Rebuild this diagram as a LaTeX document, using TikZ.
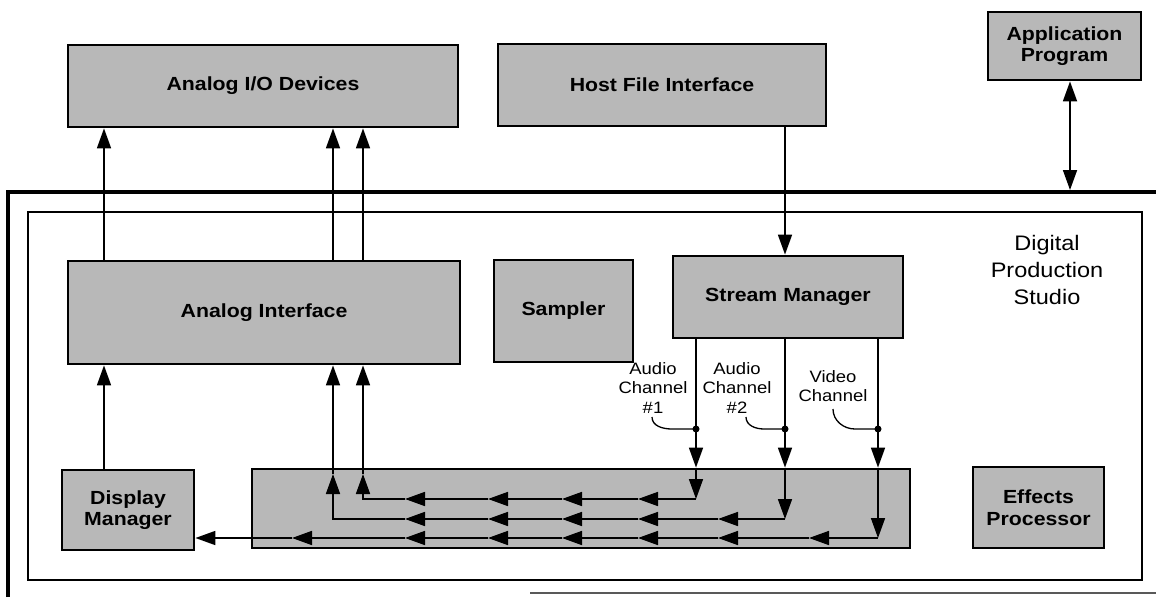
\documentclass[tikz,border=0pt]{standalone}
\usepackage{fontspec}
\setmainfont{Liberation Sans}[FakeStretch=1.12]
\usetikzlibrary{arrows.meta,calc}
\definecolor{boxgray}{gray}{0.72}
\tikzset{
  unit/.style={fill=boxgray, draw=black, line width=2.8pt, align=center,
    inner sep=0pt, font=\bfseries\fontsize{19}{21.5}\selectfont},
  link/.style={line width=1.7pt},
  tip/.style={link, -{Triangle[length=20pt,width=14pt]}},
  bitip/.style={link, {Triangle[length=20pt,width=14pt]}-{Triangle[length=20pt,width=14pt]}},
  chan/.style={align=center, font=\fontsize{16.5}{19.5}\selectfont, inner sep=0pt},
  leader/.style={line width=1.3pt},
  junction/.style={circle, fill=black, inner sep=0pt, minimum size=7pt},
}
\begin{document}
\begin{tikzpicture}[x=1pt, y=-1pt]
\useasboundingbox (0,0) rectangle (1156,597);

% studio frames
\draw[line width=4.5pt] (8,597) -- (8,192) -- (1156,192);
\draw[line width=1.5pt, black!65] (530,593) -- (1156,593);
\draw[line width=1.4pt] (28,212) rectangle (1142,580);

% units
\node[unit, minimum width=390pt, minimum height=82pt] (aio) at (263,86) {Analog I/O Devices};
\node[unit, minimum width=328pt, minimum height=82pt] (hfi) at (662,85) {Host File Interface};
\node[unit, minimum width=153pt, minimum height=68pt] (app) at (1064.5,46) {Application\\Program};
\node[unit, minimum width=392pt, minimum height=103pt] (ai) at (264,312.5) {Analog Interface};
\node[unit, minimum width=139pt, minimum height=102pt] (smp) at (563.5,311) {Sampler};
\node[unit, minimum width=230pt, minimum height=82pt] (sm) at (788,297) {Stream Manager};
\node[unit, minimum width=132pt, minimum height=80pt] (dm) at (128,510) {Display\\Manager};
\node[unit, minimum width=658pt, minimum height=79pt] (bus) at (581,508.5) {};
\node[unit, minimum width=131pt, minimum height=81pt] (fx) at (1038.5,507.5) {Effects\\Processor};

\node[align=center, font=\fontsize{21}{27}\selectfont] (dps) at (1047,270) {Digital\\Production\\Studio};

% channel labels and junctions
\node[chan] (l1) at (653,388) {Audio\\Channel\\\#1};
\node[chan] (l2) at (737,388) {Audio\\Channel\\\#2};
\node[chan] (l3) at (833,386) {Video\\Channel};
\node[junction] (d1) at (696,429) {};
\node[junction] (d2) at (785,429) {};
\node[junction] (d3) at (878,429) {};
\coordinate (f1) at (652,417);
\coordinate (f2) at (746,417);
\coordinate (f3) at (833,409);
\draw[leader] (f1) to[out=-90,in=180] (672,429) -- (d1.center);
\draw[leader] (f2) to[out=-90,in=180] (764,429) -- (d2.center);
\draw[leader] (f3) to[out=-90,in=180] (855,429) -- (d3.center);

% application program to studio
\coordinate (fr) at (1070,190);
\draw[bitip] (app.south -| fr) -- (fr);

% host file interface to stream manager
\draw[tip] (hfi.south -| d2) -- (sm.north -| d2);

% stream manager channels into the bus
\foreach \d in {d1,d2,d3} {
  \draw[link] (sm.south -| \d) -- (\d.center);
  \draw[tip] (\d.center) -- (bus.north -| \d);
}
\coordinate (r1) at (696,499);
\coordinate (r2) at (785,519);
\coordinate (r3) at (878,538);
\draw[tip] (bus.north -| r1) -- (r1);
\draw[tip] (bus.north -| r2) -- (r2);
\draw[tip] (bus.north -| r3) -- (r3);

% bus rows
\foreach \a/\b in {696/638, 638/562, 562/488, 488/405}
  \draw[tip] (\a,499) -- (\b,499);
\foreach \a/\b in {785/718, 718/638, 638/562, 562/488, 488/405}
  \draw[tip] (\a,519) -- (\b,519);
\foreach \a/\b in {878/809, 809/718, 718/638, 638/562, 562/488, 488/405, 405/292}
  \draw[tip] (\a,538) -- (\b,538);
\coordinate (u1) at (363,474);
\coordinate (u2) at (333,474);
\draw[tip] (405,499) -- (363,499) -- (u1);
\draw[tip] (405,519) -- (333,519) -- (u2);
\draw[tip] (292,538) -- (dm.east |- 292,538);

% up into the analog interface and on to the devices
\draw[tip] (u1) -- (ai.south -| u1);
\draw[tip] (u2) -- (ai.south -| u2);
\coordinate (u0) at (104,0);
\draw[tip] (dm.north -| u0) -- (ai.south -| u0);
\foreach \u in {u0,u1,u2}
  \draw[tip] (ai.north -| \u) -- (aio.south -| \u);
\end{tikzpicture}
\end{document}
